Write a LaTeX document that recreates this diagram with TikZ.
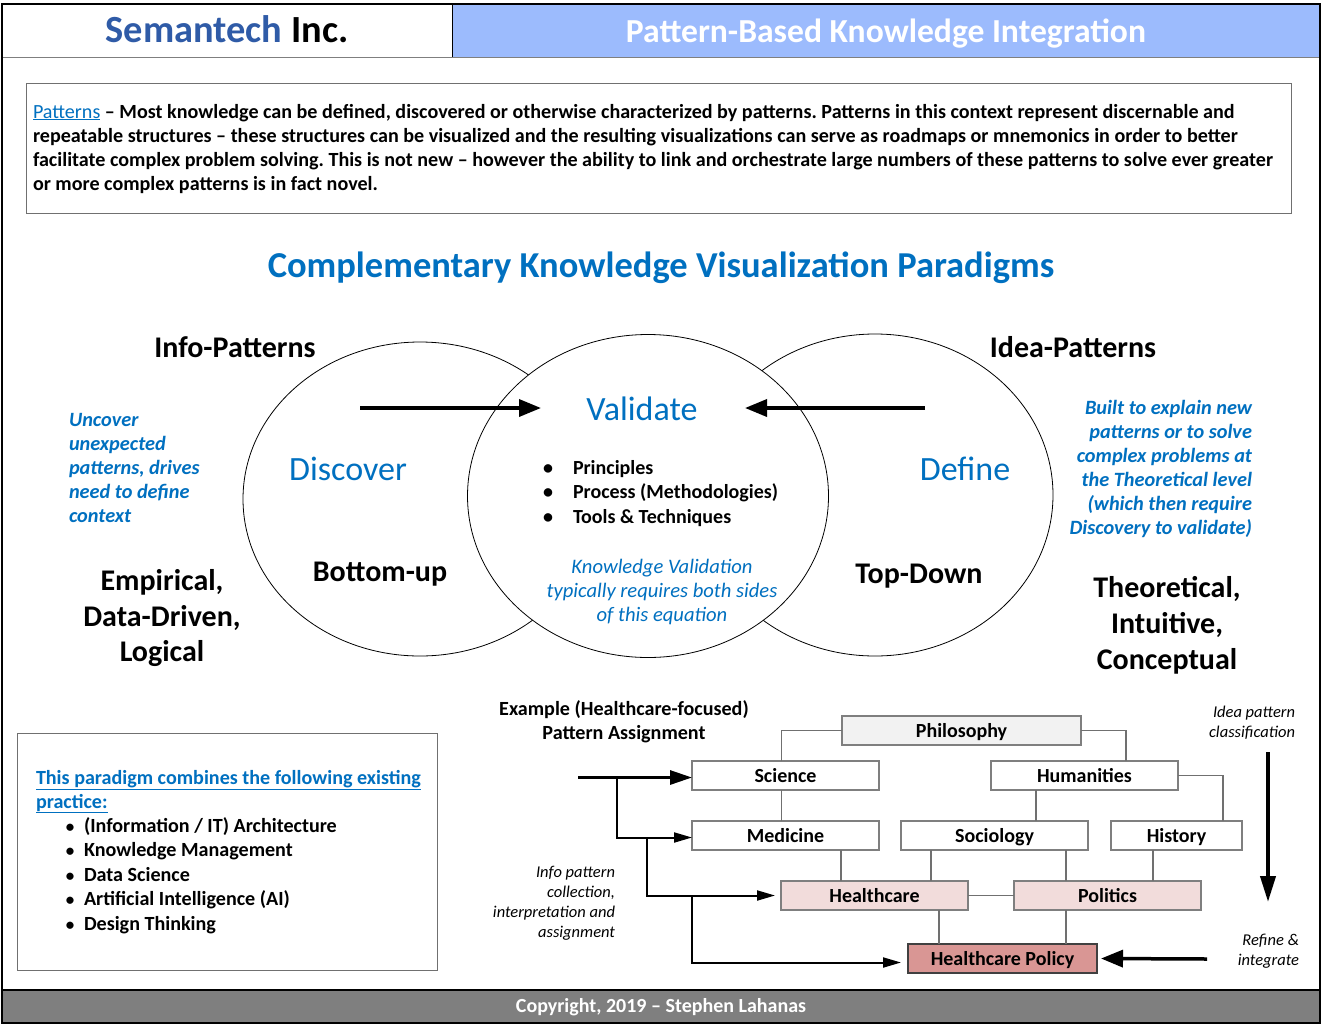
\documentclass[tikz,border=0pt]{standalone}
\usepackage{fontspec}
\setmainfont{Carlito}
\usetikzlibrary{arrows.meta,shapes.geometric}
\definecolor{kblue}{HTML}{0070C0}
\definecolor{semblue}{HTML}{2F5BA7}
\definecolor{hdrblue}{HTML}{9CBBFD}
\definecolor{midgray}{HTML}{7F7F7F}
\definecolor{linegray}{HTML}{707070}
\definecolor{rose}{HTML}{F2DCDB}
\definecolor{rosedk}{HTML}{D99694}
\definecolor{philgray}{HTML}{F2F2F2}
\newcommand\myfs[2]{\fontsize{#1}{#2}\selectfont}
\frenchspacing
\begin{document}
\begin{tikzpicture}[x=1pt,y=-1pt,
 every node/.style={inner sep=0pt,outer sep=0pt},
 ell/.style={draw=black,line width=0.8pt,fill=white,ellipse,inner sep=0pt},
 tbox/.style={draw=midgray,line width=1.3pt,fill=white,minimum height=29pt,text height=15pt,text depth=1pt,font=\bfseries\myfs{20}{24}},
 conn/.style={draw=linegray,line width=1.2pt},
 harrow/.style={line width=3.5pt,-{Triangle[length=22pt,width=17pt]}},
 harrowb/.style={line width=3pt,-{Triangle[length=22pt,width=14pt]}},
 farrow/.style={line width=2pt,-{Triangle[length=18pt,width=10pt]}},
 varrow/.style={line width=4pt,-{Triangle[length=26pt,width=15pt]}},
 ptext/.style={font=\bfseries\myfs{20.1}{24},anchor=base west},
 blueit/.style={font=\bfseries\itshape\myfs{20.3}{24},text=kblue},
 bigtxt/.style={font=\bfseries\myfs{30}{36},anchor=base},
 smallit/.style={font=\itshape\myfs{16.5}{20}},
 listtxt/.style={font=\bfseries\myfs{20.1}{24},anchor=base west},
]
\useasboundingbox (0,0) rectangle (1322,1028);
\fill[white] (0,0) rectangle (1322,1028);
% header and footer
\fill[hdrblue] (452,4) rectangle (1320,57);
\draw[midgray,line width=1pt] (2,57) -- (1320,57);
\draw[black,line width=1pt] (452,4) -- (452,57);
\fill[midgray] (2,990) rectangle (1320,1023);
\draw[black,line width=1.2pt] (2,990) -- (1320,990);
\draw[black,line width=1.3pt] (2,4) rectangle (1320,1023);
\node[font=\bfseries\myfs{38.4}{42},anchor=base] (brand) at (227,42) {\textcolor{semblue}{Semantech} Inc.};
\node[font=\bfseries\myfs{33.6}{38},text=white,anchor=base] (htitle) at (886,42) {Pattern-Based Knowledge Integration};
\node[font=\bfseries\myfs{20}{24},text=white,anchor=base] (copy) at (661,1012) {Copyright, 2019 – Stephen Lahanas};

% patterns box
\draw[linegray,line width=1pt] (26,83) rectangle (1291,213);
\node[ptext] (pl1) at (33,118) {\textcolor{kblue}{\mdseries\underline{Patterns}} – Most knowledge can be defined, discovered or otherwise characterized by patterns. Patterns in this context represent discernable and};
\node[ptext] (pl2) at (33,142) {repeatable structures – these structures can be visualized and the resulting visualizations can serve as roadmaps or mnemonics in order to better};
\node[ptext] (pl3) at (33,166) {facilitate complex problem solving. This is not new – however the ability to link and orchestrate large numbers of these patterns to solve ever greater};
\node[ptext] (pl4) at (33,190) {or more complex patterns is in fact novel.};

\node[font=\bfseries\myfs{36.5}{40},text=kblue,anchor=base] (ttl) at (661,277) {Complementary Knowledge Visualization Paradigms};

% ellipses
\node[ell,minimum width=354,minimum height=314] (L) at (420,499) {};
\node[ell,minimum width=356,minimum height=322] (R) at (875,495) {};
\node[ell,minimum width=361,minimum height=323] (M) at (648,496) {};

\coordinate (la) at (360,408); \coordinate (lb) at (541,408);
\coordinate (ra) at (925,408); \coordinate (rb) at (745,408);
\draw[harrow] (la) -- (lb);
\draw[harrow] (ra) -- (rb);

\node[bigtxt] (infop) at (235,357) {Info-Patterns};
\node[bigtxt] (ideap) at (1073,357) {Idea-Patterns};
\node[font=\myfs{34}{40},text=kblue,anchor=base] (val) at (642,420) {Validate};
\node[font=\myfs{34}{40},text=kblue,anchor=base] (disc) at (348,480) {Discover};
\node[font=\myfs{34}{40},text=kblue,anchor=base] (defn) at (965,480) {Define};
\node[bigtxt] (bup) at (380,581) {Bottom-up};
\node[bigtxt] (tdown) at (919,583) {Top-Down};

\foreach \t [count=\i] in {Principles,Process (Methodologies),Tools \& Techniques}{
  \node[font=\bfseries\myfs{20}{24},anchor=base west] (mb\i) at (573,{474+24.5*(\i-1)}) {\t};
  \node[font=\bfseries\myfs{20}{24},anchor=base] (md\i) at (548,{474+24.5*(\i-1)}) {•};
}
\foreach \t [count=\i] in {Knowledge Validation,typically requires both sides,of this equation}{
  \node[font=\itshape\myfs{20.6}{24},text=kblue,anchor=base] (kv\i) at (662,{573+24*(\i-1)}) {\t};
}
\foreach \t [count=\i] in {Uncover,unexpected,{patterns, drives},need to define,context}{
  \node[blueit,anchor=base west] (unc\i) at (69,{426+24*(\i-1)}) {\t};
}
\foreach \t [count=\i] in {{Built to explain new},{patterns or to solve},{complex problems at},{the Theoretical level},{(which then require},{Discovery to validate)}}{
  \node[blueit,anchor=base east] (blt\i) at (1252,{414+24*(\i-1)}) {\t};
}
\node[bigtxt] (emp1) at (162,590) {Empirical,};
\node[bigtxt] (emp2) at (162,626) {Data-Driven,};
\node[bigtxt] (emp3) at (162,661) {Logical};
\node[bigtxt] (the1) at (1167,597) {Theoretical,};
\node[bigtxt] (the2) at (1167,633) {Intuitive,};
\node[bigtxt] (the3) at (1167,669) {Conceptual};

% bottom-left box
\draw[linegray,line width=1pt] (17,733) rectangle (437,970);
\node[listtxt,text=kblue] (bt1) at (36,784) {\underline{This paradigm combines the following existing}};
\node[listtxt,text=kblue] (bt2) at (36,808) {\underline{practice:}};
\foreach \t [count=\i] in {{(Information / IT) Architecture},Knowledge Management,Data Science,{Artificial Intelligence (AI)},Design Thinking}{
  \node[listtxt] (li\i) at (84,{832+24.5*(\i-1)}) {\t};
  \node[font=\bfseries\myfs{17}{24},anchor=base] (lb\i) at (70,{832+24.5*(\i-1)}) {•};
}

% tree
\node[font=\bfseries\myfs{20.1}{24},anchor=base] (ex1) at (624,715) {Example (Healthcare-focused)};
\node[font=\bfseries\myfs{20.1}{24},anchor=base] (ex2) at (624,739) {Pattern Assignment};
\node[tbox,fill=philgray,minimum width=239] (phil) at (961.5,730.5) {Philosophy};
\node[tbox,minimum width=187] (sci) at (785.5,775.5) {Science};
\node[tbox,minimum width=187] (hum) at (1084.5,775.5) {Humanities};
\node[tbox,minimum width=187] (med) at (785.5,835.5) {Medicine};
\node[tbox,minimum width=187] (soc) at (994.5,835.5) {Sociology};
\node[tbox,minimum width=131] (his) at (1176.5,835.5) {History};
\node[tbox,fill=rose,minimum width=187] (hc) at (874.5,895.5) {Healthcare};
\node[tbox,fill=rose,minimum width=187] (pol) at (1107.5,895.5) {Politics};
\node[tbox,fill=rosedk,draw=black!75,minimum width=189] (hcp) at (1002.5,958.5) {Healthcare Policy};

\draw[conn] (phil.west) -| ([xshift=-4pt]sci.north);
\draw[conn] (phil.east) -| ([xshift=41.5pt]hum.north);
\draw[conn] ([xshift=-4pt]sci.south) -- ([xshift=-4pt]med.north);
\draw[conn] ([xshift=-48.5pt]hum.south) -- ([xshift=-48.5pt]hum.south |- soc.north);
\draw[conn] (hum.east) -| ([xshift=46.5pt]his.north);
\draw[conn] ([xshift=-63.5pt]soc.south) -- ([xshift=-63.5pt]soc.south |- hc.north);
\draw[conn] ([xshift=71.5pt]soc.south) -- ([xshift=71.5pt]soc.south |- pol.north);
\draw[conn] ([xshift=-23.5pt]his.south) -- ([xshift=-23.5pt]his.south |- pol.north);
\draw[conn] ([xshift=55.5pt]med.south) -- ([xshift=55.5pt]med.south |- hc.north);
\draw[conn] (hc.east) -- (pol.west);
\draw[conn] ([xshift=64.5pt]hc.south) -- ([xshift=64.5pt]hc.south |- hcp.north);
\draw[conn] ([xshift=-41.5pt]pol.south) -- ([xshift=-41.5pt]pol.south |- hcp.north);

\coordinate (in0) at (578,777.5);
\coordinate (b1) at (617,777.5);
\coordinate (b2) at (647,837.5);
\coordinate (b3) at (692,895.5);
\draw[harrowb] (in0) -- (in0 -| sci.west);
\draw[farrow] (b1) |- ([yshift=-2pt]med.west);
\draw[farrow] (b2) |- ([xshift=-6pt]hc.west);
\draw[farrow] (b3) |- ([xshift=-7pt,yshift=-4pt]hcp.west);
\coordinate (v1) at (1268,752);
\coordinate (v2) at (1268,902);
\draw[varrow] (v1) -- (v2);
\coordinate (r1) at (1207,959);
\draw[harrow] (r1) -- ([xshift=4pt]hcp.east);

\node[smallit,anchor=base east] (ip1) at (1295,717) {Idea pattern};
\node[smallit,anchor=base east] (ip2) at (1295,737) {classification};
\node[smallit,anchor=base east] (rf1) at (1299,945) {Refine \&};
\node[smallit,anchor=base east] (rf2) at (1299,965) {integrate};
\foreach \t [count=\i] in {Info pattern,{collection,},interpretation and,assignment}{
  \node[smallit,anchor=base east] (inf\i) at (615,{877+20*(\i-1)}) {\t};
}
\end{tikzpicture}
\end{document}
